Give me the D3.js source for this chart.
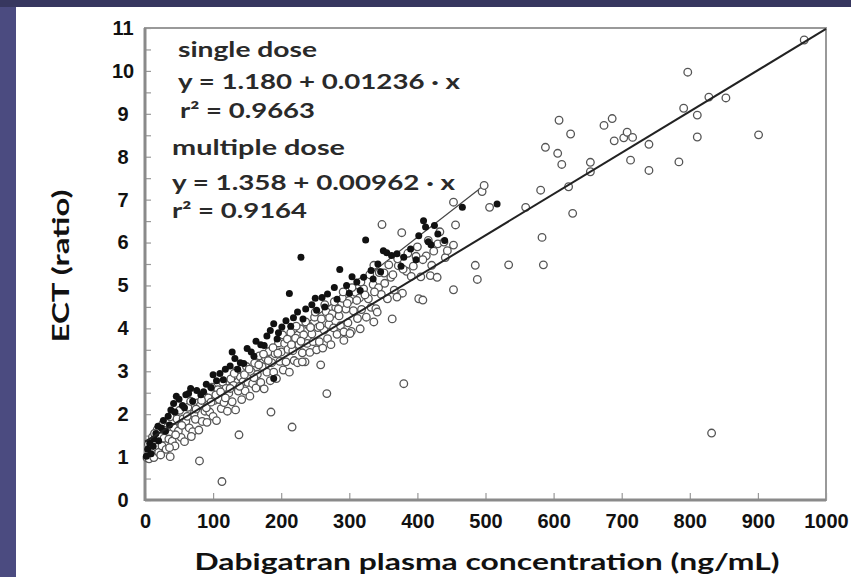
<!DOCTYPE html>
<html lang="en">
<head>
<meta charset="utf-8">
<script src="https://d3js.org/d3.v7.min.js"></script>
<style>
  body { margin: 0; background: #fff; }
  svg { display: block; font-family: Lato, "Open Sans", sans-serif; }
  .tick text { font-weight: 700; fill: #111; }
</style>
</head>
<body>
<div id="chart"></div>
<script>
// multiple dose (open circles) [conc, ECT ratio]
var multipleDose = [
  [3,0.98],[5,1.30],[6,0.96],[8,1.23],[10,1.11],[11,1.47],[13,0.99],[15,1.36],[17,1.23],[18,1.64],
  [20,1.11],[22,1.48],[25,1.26],[26,1.77],[28,1.44],[31,1.18],[33,1.70],[35,1.42],[37,1.94],[40,1.37],
  [42,1.69],[44,1.26],[47,1.89],[49,1.61],[51,2.09],[53,1.46],[56,1.89],[58,1.36],[60,1.83],[63,2.16],
  [65,1.68],[67,2.30],[70,1.59],[72,2.01],[74,1.88],[77,2.26],[79,1.63],[81,2.20],[84,1.83],[86,2.45],
  [88,2.07],[91,1.81],[93,2.38],[95,2.05],[98,2.63],[100,1.95],[102,2.32],[105,1.85],[107,2.57],[109,2.34],
  [112,2.13],[114,2.75],[116,2.27],[119,2.60],[121,2.07],[123,2.49],[126,2.82],[128,2.29],[130,2.67],[133,2.10],
  [135,3.02],[137,2.54],[140,2.87],[142,2.34],[144,2.76],[147,2.54],[149,3.11],[151,2.74],[154,2.42],[156,2.99],
  [158,2.71],[161,3.19],[163,2.61],[165,2.93],[168,3.36],[170,2.74],[172,3.11],[175,2.59],[177,3.31],[179,2.98],
  [182,3.46],[184,2.78],[186,3.20],[189,2.98],[191,3.41],[193,2.83],[196,3.66],[198,3.23],[200,3.45],[203,3.03],
  [205,3.65],[207,3.22],[210,3.51],[212,2.98],[214,3.90],[217,3.48],[219,3.25],[221,3.77],[224,3.20],[226,3.62],
  [228,3.99],[231,3.43],[233,3.85],[235,3.22],[238,3.65],[240,4.07],[242,3.44],[245,3.87],[247,3.69],[249,4.26],
  [252,3.50],[254,4.02],[256,3.69],[259,4.22],[261,3.54],[263,3.96],[266,4.39],[268,3.76],[270,4.09],[273,3.62],
  [275,4.34],[277,4.01],[280,4.49],[282,3.86],[285,4.29],[287,4.06],[290,4.70],[292,3.92],[295,4.45],[298,4.13],
  [300,4.65],[303,3.93],[306,4.41],[309,4.84],[312,4.23],[315,4.71],[318,4.44],[321,4.92],[325,4.26],[328,4.69],
  [332,4.49],[335,5.02],[339,4.46],[343,4.95],[347,4.79],[351,5.29],[356,4.69],[361,5.19],[366,4.89],[372,5.46],
  [378,4.82],[384,5.33],[391,5.21],[398,5.68],[405,5.20],[413,5.69],[421,5.47],[430,5.97],
  [14,1.55],[23,1.05],[29,1.62],[36,1.22],[45,1.52],[54,1.74],[62,1.95],[68,1.48],[75,2.12],[83,2.32],
  [90,2.15],[97,2.28],[104,2.45],[111,2.52],[118,2.38],[125,2.60],[131,2.95],[139,2.65],[146,2.92],[153,3.05],
  [160,2.85],[167,3.15],[174,3.40],[181,3.25],[188,3.55],[195,3.42],[202,3.85],[209,3.75],[215,3.62],[222,4.05],
  [229,3.70],[236,4.15],[243,4.02],[250,4.38],[257,4.05],[264,4.55],[271,4.25],[278,4.62],[284,4.45],[291,4.85],
  [297,4.58],[304,4.95],[311,4.65],[317,5.08],[323,4.78],[330,5.25],[337,4.85],[344,5.30],[352,5.05],[358,5.48],
  [364,5.25],[371,5.62],[379,5.38],[386,5.75],[394,5.45],[400,5.90],[408,5.60],[416,6.05],[424,5.80],[433,6.25],
  [441,5.65],
  [37,1.01],[80,0.91],[113,0.43],[138,1.52],[185,2.05],[216,1.70],[231,3.22],[258,3.15],[267,2.48],[292,3.72],
  [301,3.88],[316,3.99],[336,4.15],[341,4.38],[363,4.22],[370,4.73],[380,2.71],[402,4.69],[408,4.66],[419,5.23],
  [429,5.19],[444,5.81],[439,6.01],[453,4.90],[453,5.94],[456,6.41],[453,6.94],[348,6.42],[377,6.23],[336,5.47],
  [485,5.47],[488,5.14],[495,7.19],[498,7.33],[506,6.82],[534,5.48],[559,6.82],[581,7.22],[585,5.48],[583,6.12],
  [588,8.22],[606,8.08],[608,8.85],[612,7.82],[622,7.30],[625,8.53],[628,6.68],[654,7.87],[654,7.65],[674,8.73],
  [686,8.89],[689,8.37],[703,8.44],[708,8.57],[716,8.45],[713,7.92],[740,8.29],[740,7.68],[784,7.88],[791,9.13],
  [797,9.97],[811,8.97],[811,8.46],[828,9.39],[853,9.37],[901,8.51],[968,10.72],[832,1.56]
];

// single dose (filled dots)
var singleDose = [
  [2,1.02],[4,1.18],[7,1.32],[9,1.08],[13,1.42],[16,1.55],[20,1.38],[24,1.68],[27,1.85],[30,1.60],
  [34,1.95],[38,2.10],[42,2.25],[46,2.42],[50,2.35],[55,2.20],[60,2.45],[64,2.48],[70,2.30],[76,2.55],
  [82,2.45],[90,2.70],[97,2.62],[105,2.78],[110,2.95],[118,3.05],[125,3.12],[132,3.30],[140,3.20],[145,3.18],
  [150,3.53],[156,3.45],[163,3.70],[170,3.62],[179,3.82],[184,3.95],[189,4.11],[189,2.83],[196,3.90],[201,4.03],
  [207,4.18],[212,4.81],[218,4.25],[224,4.38],[229,5.66],[236,4.45],[245,4.55],[252,4.42],[260,4.72],[268,4.80],
  [278,4.95],[286,5.37],[296,5.00],[304,5.20],[311,5.08],[316,4.88],[321,5.19],[324,6.06],[332,5.35],[342,5.50],
  [350,5.81],[355,5.76],[362,5.70],[370,5.74],[380,5.66],[390,5.85],[402,6.16],[409,6.51],[412,6.36],[420,5.95],
  [430,6.20],[466,6.82],[517,6.90],
  [12,1.25],[19,1.72],[36,1.75],[44,2.05],[58,2.15],[67,2.60],[86,2.52],[100,2.92],[115,2.80],[128,3.45],
  [136,3.05],[160,3.35],[175,3.60],[194,3.75],[214,4.05],[232,4.22],[250,4.70],[264,4.50],[282,4.68],[300,4.82],
  [335,5.15],[346,5.32],[376,5.45],[398,5.60],[416,6.02],[425,6.40],[440,6.05]
];

// regression fits: intercept, slope, r2
var fitNames = ["single dose", "multiple dose"];
var fitIntercept = [1.180, 1.358];
var fitSlope = [0.01236, 0.00962];
var fitR2 = ["0.9663", "0.9164"];
var fitXmax = [500, 1000];

var xTicks = d3.range(0, 1001, 100);
var yTicks = d3.range(0, 11.01, 0.5);

var W = 851, H = 577;
var plotLeft = 145, plotRight = 826, plotTop = 28, plotBottom = 500;

var svg = d3.select("#chart").append("svg")
    .attr("width", W).attr("height", H);

// dark slide border strips
svg.append("rect").attr("x", 0).attr("y", 0).attr("width", W).attr("height", 7).attr("fill", "#37375f");
svg.append("rect").attr("x", 0).attr("y", 7).attr("width", 16).attr("height", H - 7).attr("fill", "#4b4b80");

var x = d3.scaleLinear().domain([0, 1000]).range([plotLeft, plotRight]);
var y = d3.scaleLinear().domain([0, 11]).range([plotBottom, plotTop]);

// frame
svg.append("rect")
    .attr("x", plotLeft).attr("y", plotTop)
    .attr("width", plotRight - plotLeft).attr("height", plotBottom - plotTop)
    .attr("fill", "none").attr("stroke", "#999").attr("stroke-width", 2);

// axes with inward ticks
var yAxis = svg.append("g")
    .attr("transform", "translate(" + plotLeft + ",0)")
    .call(d3.axisLeft(y).tickValues(yTicks).tickSize(-6)
        .tickFormat(function(d) { return Number.isInteger(d) ? d : ""; }));
yAxis.select(".domain").remove();
yAxis.selectAll(".tick line").attr("stroke", "#999").attr("stroke-width", 1.2);
yAxis.selectAll(".tick text")
    .attr("x", -22).attr("text-anchor", "middle")
    .style("font-size", "20px");

var xAxis = svg.append("g")
    .attr("transform", "translate(0," + plotBottom + ")")
    .call(d3.axisBottom(x).tickValues(xTicks).tickSize(-7).tickPadding(14)
        .tickFormat(d3.format("d")));
xAxis.select(".domain").remove();
xAxis.selectAll(".tick line").attr("stroke", "#999").attr("stroke-width", 1.2);
xAxis.selectAll(".tick text").style("font-size", "20px");

// axis lines a bit heavier on left / bottom
svg.append("line").attr("x1", plotLeft).attr("x2", plotLeft).attr("y1", plotTop).attr("y2", plotBottom + 1)
    .attr("stroke", "#8a8a8a").attr("stroke-width", 3);
svg.append("line").attr("x1", plotLeft).attr("x2", plotRight).attr("y1", plotBottom).attr("y2", plotBottom)
    .attr("stroke", "#8a8a8a").attr("stroke-width", 3);

// single dose fit (under the points)
svg.append("line")
    .attr("x1", x(0)).attr("y1", y(fitIntercept[0]))
    .attr("x2", x(fitXmax[0])).attr("y2", y(fitIntercept[0] + fitSlope[0] * fitXmax[0]))
    .attr("stroke", "#444").attr("stroke-width", 1.2);

svg.append("g").selectAll("circle")
    .data(multipleDose)
    .enter().append("circle")
    .attr("cx", function(d) { return x(d[0]); })
    .attr("cy", function(d) { return y(d[1]); })
    .attr("r", 3.8)
    .attr("fill", "#fff")
    .attr("stroke", "#555")
    .attr("stroke-width", 1.3);

svg.append("g").selectAll("circle")
    .data(singleDose)
    .enter().append("circle")
    .attr("cx", function(d) { return x(d[0]); })
    .attr("cy", function(d) { return y(d[1]); })
    .attr("r", 3.5)
    .attr("fill", "#111");

// multiple dose fit
svg.append("line")
    .attr("x1", x(0)).attr("y1", y(fitIntercept[1]))
    .attr("x2", x(fitXmax[1])).attr("y2", y(fitIntercept[1] + fitSlope[1] * fitXmax[1]))
    .attr("stroke", "#222").attr("stroke-width", 2);

// equations text
var eqLines = [
  { t: fitNames[0], x: 178, y: 57, w: 139 },
  { t: "y = " + fitIntercept[0].toFixed(3) + " + " + fitSlope[0] + " \u00b7 x", x: 178, y: 89, w: 282 },
  { t: "r\u00b2 = " + fitR2[0], x: 180, y: 118, w: 135 },
  { t: fitNames[1], x: 172, y: 155, w: 173 },
  { t: "y = " + fitIntercept[1].toFixed(3) + " + " + fitSlope[1] + " \u00b7 x", x: 172, y: 190, w: 283 },
  { t: "r\u00b2 = " + fitR2[1], x: 172, y: 218, w: 135 }
];
svg.append("g").selectAll("text")
    .data(eqLines)
    .enter().append("text")
    .attr("x", function(d) { return d.x; })
    .attr("y", function(d) { return d.y; })
    .attr("textLength", function(d) { return d.w; })
    .attr("lengthAdjust", "spacingAndGlyphs")
    .style("font-size", "21px")
    .style("font-weight", "700")
    .attr("fill", "#2a2a2a")
    .text(function(d) { return d.t; });

// axis titles
svg.append("text")
    .attr("x", 487).attr("y", 570)
    .attr("text-anchor", "middle")
    .attr("textLength", 585).attr("lengthAdjust", "spacingAndGlyphs")
    .style("font-size", "22px").style("font-weight", "700")
    .attr("fill", "#111")
    .text("Dabigatran plasma concentration (ng/mL)");

svg.append("text")
    .attr("transform", "translate(69,266) rotate(-90)")
    .attr("text-anchor", "middle")
    .attr("textLength", 153).attr("lengthAdjust", "spacingAndGlyphs")
    .style("font-size", "22px").style("font-weight", "700")
    .attr("fill", "#111")
    .text("ECT (ratio)");
</script>
</body>
</html>
